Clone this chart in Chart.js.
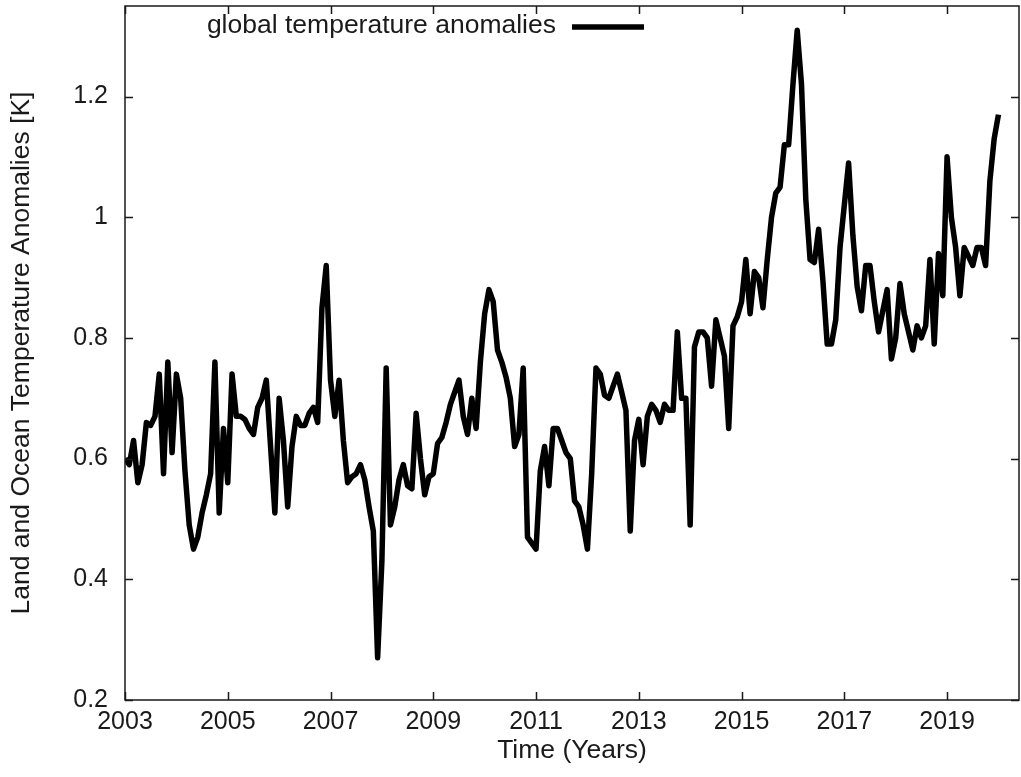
<!DOCTYPE html>
<html lang="en">
<head>
<meta charset="UTF-8">
<title>Global temperature anomalies</title>
<script src="https://cdn.jsdelivr.net/npm/chart.js"></script>
<style>
    body { margin: 0; background: #fff; }
    #wrap { width: 1021px; height: 777px; }
</style>
</head>
<body>
<div id="wrap"><canvas id="chart" width="1021" height="777"></canvas></div>
<script>
// monthly values, Jan 2003 .. Jan 2020
const startYear = 2003;
const anomalies = [
    0.60, 0.59, 0.63, 0.56, 0.59, 0.66, 0.655, 0.67, 0.74, 0.575, 0.76, 0.61,   // 2003
    0.74, 0.70, 0.58, 0.49, 0.45, 0.47, 0.51, 0.54, 0.575, 0.76, 0.51, 0.65,    // 2004
    0.56, 0.74, 0.67, 0.67, 0.665, 0.65, 0.64, 0.685, 0.70, 0.73, 0.62, 0.51,   // 2005
    0.70, 0.63, 0.52, 0.62, 0.67, 0.655, 0.655, 0.675, 0.685, 0.66, 0.85, 0.92, // 2006
    0.73, 0.67, 0.73, 0.63, 0.56, 0.57, 0.575, 0.59, 0.565, 0.52, 0.48, 0.27,   // 2007
    0.43, 0.75, 0.49, 0.52, 0.565, 0.59, 0.555, 0.55, 0.675, 0.60, 0.54, 0.57,  // 2008
    0.575, 0.625, 0.635, 0.66, 0.69, 0.71, 0.73, 0.67, 0.64, 0.70, 0.65, 0.76,  // 2009
    0.84, 0.88, 0.86, 0.78, 0.76, 0.735, 0.70, 0.62, 0.64, 0.75, 0.47, 0.46,    // 2010
    0.45, 0.58, 0.62, 0.555, 0.65, 0.65, 0.63, 0.61, 0.60, 0.53, 0.52, 0.49,    // 2011
    0.45, 0.575, 0.75, 0.74, 0.705, 0.70, 0.72, 0.74, 0.71, 0.68, 0.48, 0.63,   // 2012
    0.665, 0.59, 0.67, 0.69, 0.68, 0.66, 0.69, 0.68, 0.68, 0.81, 0.70, 0.70,    // 2013
    0.49, 0.785, 0.81, 0.81, 0.80, 0.72, 0.83, 0.80, 0.77, 0.65, 0.82, 0.835,   // 2014
    0.86, 0.93, 0.84, 0.91, 0.90, 0.85, 0.93, 1.00, 1.04, 1.05, 1.12, 1.12,     // 2015
    1.22, 1.31, 1.22, 1.03, 0.93, 0.925, 0.98, 0.895, 0.79, 0.79, 0.83, 0.95,   // 2016
    1.02, 1.09, 0.97, 0.885, 0.845, 0.92, 0.92, 0.86, 0.81, 0.845, 0.88, 0.765, // 2017
    0.80, 0.89, 0.84, 0.81, 0.78, 0.82, 0.80, 0.82, 0.93, 0.79, 0.94, 0.87,     // 2018
    1.10, 1.00, 0.95, 0.87, 0.95, 0.935, 0.92, 0.95, 0.95, 0.92, 1.06, 1.13,    // 2019
    1.17                                                                       // 2020
];
const xTicks = [2003, 2005, 2007, 2009, 2011, 2013, 2015, 2017, 2019];
const yTicks = [0.2, 0.4, 0.6, 0.8, 1.0, 1.2];
const seriesLabel = 'global temperature anomalies';

const FONT = "'Liberation Sans', Arial, sans-serif";
const INK = '#1a1a1a';

const points = anomalies.map((v, i) => ({ x: startYear + i / 12, y: v }));

// gnuplot style box: border, inward ticks mirrored on all sides, key inside
const framePlugin = {
    id: 'frame',
    afterDraw(chart) {
        const { ctx, chartArea: a, scales } = chart;
        const tl = 8;
        ctx.save();
        ctx.strokeStyle = INK;
        ctx.lineWidth = 1.5;
        ctx.strokeRect(a.left, a.top, a.right - a.left, a.bottom - a.top);
        ctx.beginPath();
        xTicks.forEach(v => {
            const px = Math.round(scales.x.getPixelForValue(v)) + 0.5;
            ctx.moveTo(px, a.bottom); ctx.lineTo(px, a.bottom - tl);
            ctx.moveTo(px, a.top); ctx.lineTo(px, a.top + tl);
        });
        yTicks.forEach(v => {
            const py = Math.round(scales.y.getPixelForValue(v)) + 0.5;
            ctx.moveTo(a.left, py); ctx.lineTo(a.left + tl, py);
            ctx.moveTo(a.right, py); ctx.lineTo(a.right - tl, py);
        });
        ctx.stroke();

        // key
        const ds = chart.data.datasets[0];
        const ky = a.top + 20;
        ctx.font = '26.5px ' + FONT;
        ctx.fillStyle = INK;
        ctx.textAlign = 'right';
        ctx.textBaseline = 'middle';
        ctx.fillText(ds.label, a.left + 431, ky);
        ctx.beginPath();
        ctx.strokeStyle = ds.borderColor;
        ctx.lineWidth = ds.borderWidth;
        ctx.moveTo(a.left + 447, ky + 1);
        ctx.lineTo(a.left + 519, ky + 1);
        ctx.stroke();
        ctx.restore();
    }
};

new Chart(document.getElementById('chart'), {
    type: 'line',
    data: {
        datasets: [{
            label: seriesLabel,
            data: points,
            borderColor: '#000',
            borderWidth: 5.5,
            borderJoinStyle: 'round',
            pointRadius: 0,
            tension: 0,
            fill: false
        }]
    },
    options: {
        responsive: false,
        devicePixelRatio: 1,
        animation: false,
        layout: { padding: { left: 0, right: 2, top: 6, bottom: 0 } },
        plugins: {
            legend: { display: false },
            tooltip: { enabled: false }
        },
        scales: {
            x: {
                type: 'linear',
                min: 2003,
                max: 2020.4,
                afterBuildTicks: s => { s.ticks = xTicks.map(v => ({ value: v })); },
                afterFit: s => { s.height = 77; },
                grid: { display: false, drawTicks: false },
                border: { display: false },
                ticks: {
                    padding: 7,
                    maxRotation: 0,
                    color: INK,
                    font: { family: FONT, size: 25 },
                    callback: v => String(v)
                },
                title: {
                    display: true,
                    text: 'Time (Years)',
                    color: INK,
                    font: { family: FONT, size: 26.5 },
                    padding: { top: 0, bottom: 10 }
                }
            },
            y: {
                min: 0.2,
                max: 1.35,
                afterBuildTicks: s => { s.ticks = yTicks.map(v => ({ value: v })); },
                afterFit: s => { s.width = 125; s.paddingTop = 0; s.paddingBottom = 0; },
                grid: { display: false, drawTicks: false },
                border: { display: false },
                ticks: {
                    padding: 17,
                    color: INK,
                    font: { family: FONT, size: 25 },
                    callback: v => String(Number(v.toFixed(1)))
                },
                title: {
                    display: true,
                    text: 'Land and Ocean Temperature Anomalies [K]',
                    color: INK,
                    font: { family: FONT, size: 26.5 },
                    padding: { top: 6, bottom: 0 }
                }
            }
        }
    },
    plugins: [framePlugin]
});
</script>
</body>
</html>
